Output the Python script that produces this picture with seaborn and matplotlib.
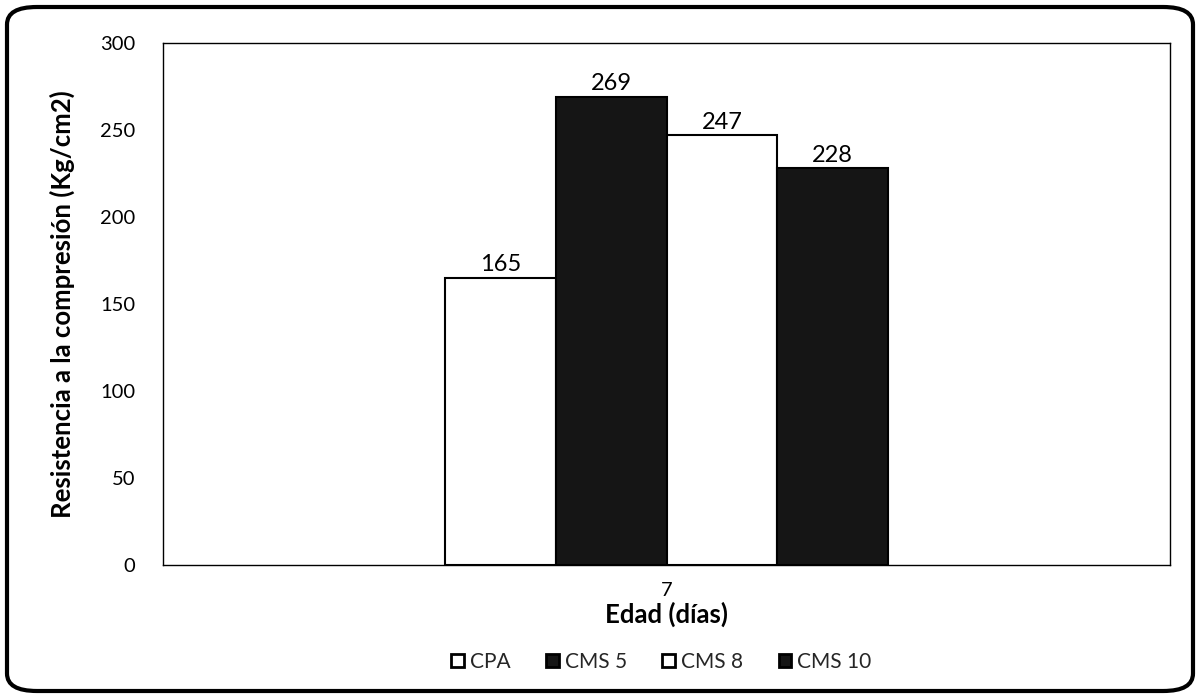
import matplotlib
matplotlib.use("Agg")
import matplotlib.pyplot as plt
from matplotlib.patches import FancyBboxPatch, Patch
import seaborn as sns
import pandas as pd

# Data
edades = ["7"]
series = ["CPA", "CMS 5", "CMS 8", "CMS 10"]
resistencia = [165, 269, 247, 228]
colores = ["white", "#151515", "white", "#151515"]

df = pd.DataFrame({
    "Edad": edades * len(series),
    "Serie": series,
    "Resistencia": resistencia,
})

sns.set_theme(style="white")
plt.rcParams["font.family"] = ["Lato", "DejaVu Sans"]

fig = plt.figure(figsize=(11.96, 6.98), dpi=100)
ax = fig.add_axes([0.1363, 0.1905, 0.842, 0.748])

sns.barplot(data=df, x="Edad", y="Resistencia", hue="Serie",
            hue_order=series, palette=colores, width=0.44, gap=0,
            edgecolor="black", linewidth=1.5, legend=False, ax=ax)

# Value labels on top of each bar
for bar, val in zip(ax.patches, resistencia):
    ax.text(bar.get_x() + bar.get_width() / 2, val + 1.5, f"{val}",
            ha="center", va="bottom", fontsize=17, color="black")

ax.set_ylim(0, 300)
ax.set_xlim(-0.5, 0.5)
ax.set_yticks(range(0, 301, 50))
ax.tick_params(axis="y", labelsize=14.5, length=0, pad=20, colors="black")
ax.tick_params(axis="x", labelsize=14.5, length=0, pad=12, colors="black")
for s in ax.spines.values():
    s.set_visible(True)
    s.set_color("black")
    s.set_linewidth(1.0)

ax.set_ylabel("Resistencia a la compresión (Kg/cm2)", fontsize=18.5,
              fontweight="bold", labelpad=18, color="black")
ax.set_xlabel("Edad (días)", fontsize=18.5, fontweight="bold",
              labelpad=2, color="black")

handles = [Patch(facecolor=c, edgecolor="black", linewidth=2) for c in colores]
fig.legend(handles, series, loc="center", bbox_to_anchor=(0.553, 0.052),
           ncol=4, frameon=False, fontsize=15, handlelength=0.6,
           handleheight=0.6, handletextpad=0.3, columnspacing=1.7)

# Rounded outer frame
frame = FancyBboxPatch((7 / 1196, 7 / 698), 1186 / 1196, 684 / 698,
                       boxstyle="round,pad=0,rounding_size=0.025",
                       transform=fig.transFigure, facecolor="none",
                       edgecolor="black", linewidth=3, zorder=10)
fig.patches.append(frame)

fig.savefig("out.png", dpi=100, facecolor="white")
